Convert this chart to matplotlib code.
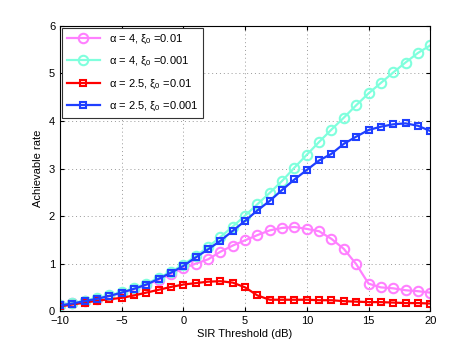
import numpy as np
import matplotlib.pyplot as plt

plt.rcParams['font.family'] = ['Liberation Sans', 'DejaVu Sans']
plt.rcParams['mathtext.fontset'] = 'custom'
plt.rcParams['mathtext.rm'] = 'Liberation Sans'
plt.rcParams['mathtext.it'] = 'Liberation Sans'

sir_db = list(range(-10, 21))

# alpha = 4, xi0 = 0.01
rate_a4_x01 = [0.13, 0.17, 0.21, 0.26, 0.32, 0.38, 0.46, 0.55, 0.66, 0.78, 0.90,
               1.00, 1.09, 1.25, 1.38, 1.49, 1.60, 1.70, 1.75, 1.77, 1.73,
               1.68, 1.52, 1.31, 0.99, 0.58, 0.50, 0.48, 0.44, 0.42, 0.39]
# alpha = 4, xi0 = 0.001
rate_a4_x001 = [0.13, 0.17, 0.22, 0.27, 0.33, 0.40, 0.48, 0.58, 0.70, 0.83, 0.98,
                1.16, 1.35, 1.56, 1.78, 2.01, 2.25, 2.49, 2.74, 3.02, 3.29,
                3.56, 3.82, 4.07, 4.33, 4.58, 4.80, 5.02, 5.23, 5.43, 5.59]
# alpha = 2.5, xi0 = 0.01
rate_a25_x01 = [0.10, 0.14, 0.18, 0.22, 0.25, 0.28, 0.33, 0.39, 0.45, 0.51, 0.56,
                0.59, 0.62, 0.63, 0.60, 0.50, 0.33, 0.24, 0.24, 0.24, 0.24,
                0.23, 0.23, 0.21, 0.20, 0.19, 0.19, 0.18, 0.17, 0.17, 0.16]
# alpha = 2.5, xi0 = 0.001
rate_a25_x001 = [0.12, 0.16, 0.21, 0.26, 0.32, 0.39, 0.47, 0.56, 0.68, 0.81, 0.95,
                 1.13, 1.30, 1.48, 1.69, 1.90, 2.12, 2.32, 2.55, 2.77, 2.97,
                 3.17, 3.31, 3.52, 3.67, 3.81, 3.88, 3.93, 3.95, 3.90, 3.79]

fig = plt.figure(figsize=(4.74, 3.5), dpi=100)
ax = fig.add_axes([0.1266, 0.111, 0.781, 0.815])

circ = dict(linewidth=1.6, markersize=6.8, markerfacecolor='none', markeredgewidth=1.5)
sq = dict(linewidth=1.6, markersize=5.0, markerfacecolor='none', markeredgewidth=1.5)
ax.plot(sir_db, rate_a4_x01, '-o', color='#ff80ff', label=r'$\mathrm{\alpha}$ = 4, $\mathrm{\xi_0}$ =0.01', **circ)
ax.plot(sir_db, rate_a4_x001, '-o', color='#80ffdd', label=r'$\mathrm{\alpha}$ = 4, $\mathrm{\xi_0}$ =0.001', **circ)
ax.plot(sir_db, rate_a25_x01, '-s', color='#ff0000', label=r'$\mathrm{\alpha}$ = 2.5, $\mathrm{\xi_0}$ =0.01', **sq)
ax.plot(sir_db, rate_a25_x001, '-s', color='#1f3fff', label=r'$\mathrm{\alpha}$ = 2.5, $\mathrm{\xi_0}$ =0.001', **sq)

ax.set_xlim(-10, 20)
ax.set_ylim(0, 6)
ax.set_xticks([-10, -5, 0, 5, 10, 15, 20])
ax.set_yticks([0, 1, 2, 3, 4, 5, 6])
ax.tick_params(direction='in', labelsize=8, top=True, right=True, length=3)
ax.grid(True, linestyle=(0, (1, 3)), color='#999999', linewidth=0.7)
ax.set_xlabel('SIR Threshold (dB)', fontsize=8, labelpad=2)
ax.set_ylabel('Achievable rate', fontsize=8, labelpad=4)
for s in ax.spines.values():
    s.set_linewidth(0.8)

leg = ax.legend(loc='upper left', fontsize=8, fancybox=False, edgecolor='#333333',
                borderaxespad=0.2, handlelength=3.0, labelspacing=0.85, framealpha=1)
leg.get_frame().set_linewidth(0.8)

fig.savefig('out.png', dpi=100)
